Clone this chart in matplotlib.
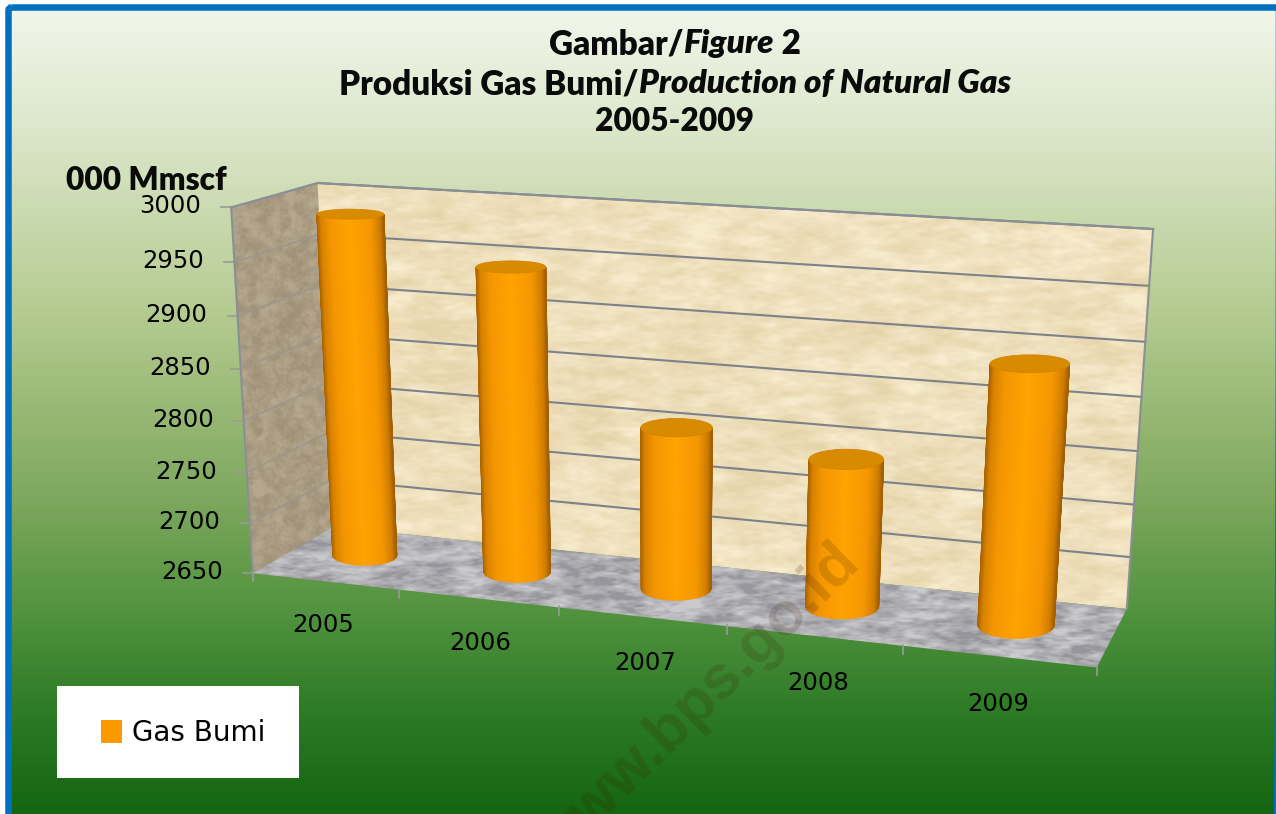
import numpy as np
import matplotlib
matplotlib.use("Agg")
import matplotlib.pyplot as plt
from matplotlib.patches import Polygon, Rectangle, FancyBboxPatch, Patch, Ellipse
from matplotlib.colors import LinearSegmentedColormap, to_rgb

# ---- data ----
years = ["2005", "2006", "2007", "2008", "2009"]
gas_bumi = [2985, 2945, 2806, 2790, 2890]
y_ticks = [2650, 2700, 2750, 2800, 2850, 2900, 2950, 3000]
series_name = "Gas Bumi"
y_title = "000 Mmscf"
VMIN, VMAX = 2650, 3000

W, H = 1276, 814
fig = plt.figure(figsize=(W / 100, H / 100), dpi=100)
ax = fig.add_axes([0, 0, 1, 1])
ax.set_xlim(0, W)
ax.set_ylim(H, 0)
ax.axis("off")
fig.patch.set_facecolor("white")

# ---- 3-D projection fitted to the box corners (x category, y value, z depth) ----
world = [(0, 0, 0), (0, 1, 0), (5, 0, 0), (5, 1, 0), (0, 0, 1), (0, 1, 1), (5, 0, 1), (5, 1, 1)]
image = [(254, 570), (229, 206), (1097, 668), (1124, 265), (332, 530), (320, 184), (1127, 608), (1152, 225)]
A = []
for (X, Y, Z), (u, v) in zip(world, image):
    A.append([X, Y, Z, 1, 0, 0, 0, 0, -u * X, -u * Y, -u * Z, -u])
    A.append([0, 0, 0, 0, X, Y, Z, 1, -v * X, -v * Y, -v * Z, -v])
P = np.linalg.svd(np.array(A, float))[2][-1].reshape(3, 4)


def proj(x, val, z):
    x, val, z = np.broadcast_arrays(np.asarray(x, float), np.asarray(val, float), np.asarray(z, float))
    yy = (val - VMIN) / (VMAX - VMIN)
    h = np.stack([x, yy, z, np.ones_like(x)])
    q = P @ h.reshape(4, -1)
    return (q[0] / q[2]).reshape(x.shape), (q[1] / q[2]).reshape(x.shape)


def corner(x, val, z):
    a, b = proj(x, val, z)
    return float(a), float(b)


# ---- background gradient ----
stops = [(0.0, "#f1f6ea"), (0.13, "#dfe9cf"), (0.37, "#b6cc92"), (0.6, "#80a95f"),
         (0.75, "#52933f"), (0.88, "#2c7a24"), (1.0, "#156612")]
grad = LinearSegmentedColormap.from_list("bg", stops)
ax.imshow(np.linspace(0, 1, 400)[:, None], cmap=grad, extent=(8, W, H, 8), aspect="auto", zorder=0)
ax.set_xlim(0, W)
ax.set_ylim(H, 0)
# blue frame
ax.add_patch(FancyBboxPatch((8.5, 7.5), W - 5.5, H + 40, boxstyle="round,pad=0,rounding_size=3",
                            fc="none", ec="#0070c0", lw=4.7, zorder=9))


# ---- deterministic texture ----
def smooth_noise(h, w, sx, sy, seed):
    yy, xx = np.mgrid[0:h, 0:w]
    n = np.sin(xx * 12.9898 + yy * 78.233 + seed) * 43758.5453
    n = n - np.floor(n)
    fy = np.fft.fftfreq(h)[:, None]
    fx = np.fft.fftfreq(w)[None, :]
    f = np.exp(-2 * (np.pi ** 2) * ((fx * sx) ** 2 + (fy * sy) ** 2))
    s = np.real(np.fft.ifft2(np.fft.fft2(n) * f))
    return (s - s.mean()) / s.std()


def textured(poly, base, dark, amount, sx, sy, seed, spots=0.0):
    xs, ys = zip(*poly)
    x0, x1, y0, y1 = int(min(xs)) - 1, int(max(xs)) + 2, int(min(ys)) - 1, int(max(ys)) + 2
    h, w = y1 - y0, x1 - x0
    n = smooth_noise(h, w, sx, sy, seed) + 0.6 * smooth_noise(h, w, sx / 3, sy / 3, seed + 3)
    n /= n.std()
    t = np.clip(0.5 + amount * n, 0, 1)
    if spots:
        t = np.clip(t + spots * np.clip(n - 1.1, 0, None), 0, 1)
    a, b = np.array(to_rgb(base)), np.array(to_rgb(dark))
    img = a[None, None, :] * (1 - t[..., None]) + b[None, None, :] * t[..., None]
    im = ax.imshow(img, extent=(x0, x1, y1, y0), aspect="auto", zorder=1, interpolation="bilinear")
    im.set_clip_path(Polygon(poly, transform=ax.transData))
    ax.set_xlim(0, W)
    ax.set_ylim(H, 0)


back = [corner(0, VMAX, 1), corner(5, VMAX, 1), corner(5, VMIN, 1), corner(0, VMIN, 1)]
left = [corner(0, VMAX, 0), corner(0, VMAX, 1), corner(0, VMIN, 1), corner(0, VMIN, 0)]
floor = [corner(0, VMIN, 0), corner(0, VMIN, 1), corner(5, VMIN, 1), corner(5, VMIN, 0)]
textured(back, "#f8ecce", "#e6d4aa", 0.2, 10, 3.5, 1.0)
textured(left, "#b6a88f", "#a09279", 0.25, 3, 3, 2.0)
textured(floor, "#cacacd", "#96969c", 0.26, 8, 2.5, 3.0, spots=0.3)

# ---- grid and box edges ----
GRID = "#7c828a"
for v in y_ticks:
    xa, ya = corner(0, v, 0)
    xb, yb = corner(0, v, 1)
    xc, yc = corner(5, v, 1)
    if v != VMIN:
        ax.plot([xa, xb], [ya, yb], color="#9c968b", lw=1.1, zorder=2)
        ax.plot([xb, xc], [yb, yc], color=GRID, lw=1.5, zorder=2)
    ax.plot([xa - 10, xa], [ya, ya], color="#9a9a9a", lw=1.2, zorder=2)
    ax.text(xa - 30, ya - 1, str(v), ha="right", va="center", fontsize=17.5, family="DejaVu Sans", color="black", zorder=6)
for a, b in [(back[0], back[1]), (back[1], back[2]), (left[0], left[1]), (left[0], left[3])]:
    ax.plot([a[0], b[0]], [a[1], b[1]], color="#8a8f96", lw=1.5, zorder=2)

for i in range(6):
    xa, ya = corner(i - (0.05 if 0 < i < 5 else 0), VMIN, 0)
    ax.plot([xa, xa], [ya - 1, ya + 8], color="#9a9a9a", lw=1.2, zorder=2)
for i, y in enumerate(years):
    xa, ya = corner(i + 0.48, VMIN, 0)
    ax.text(xa - 3 + 0.5 * i, ya + 43.5 + i, y, ha="center", va="center", fontsize=17.5, family="DejaVu Sans", color="black", zorder=6)

# ---- cylinders ----
RX = 0.215
CXO, CZ = 0.46, 0.53
shade_t = [0.0, 0.06, 0.2, 0.5, 0.8, 0.94, 1.0]
shade_c = ["#a86200", "#d88200", "#f59600", "#ffa300", "#f69700", "#cf7d00", "#a35f00"]
shade = LinearSegmentedColormap.from_list("cyl", list(zip(shade_t, shade_c)))


def ell_k(y):
    return 0.15 + (y - 218) * 0.0005


for i, val in enumerate(gas_bumi):
    z0 = 3 + i * 0.01
    cx = i + CXO
    bx, by = corner(cx, VMIN, CZ)
    tx, ty = corner(cx, val, CZ)
    brx = (corner(cx + RX, VMIN, CZ)[0] - corner(cx - RX, VMIN, CZ)[0]) / 2
    trx = (corner(cx + RX, val, CZ)[0] - corner(cx - RX, val, CZ)[0]) / 2
    bry, try_ = brx * ell_k(by), trx * ell_k(ty)
    N = 80
    us = np.sin(np.linspace(-1, 1, N + 1) * np.pi / 2)
    xb_ = bx + brx * us
    yb_ = by + bry * np.sqrt(np.clip(1 - us ** 2, 0, 1))
    xt_ = tx + trx * us
    yt_ = ty + try_ * np.sqrt(np.clip(1 - us ** 2, 0, 1))
    for k in range(N):
        col = shade((us[k] + us[k + 1]) / 4 + 0.5)
        ax.add_patch(Polygon([(xb_[k], yb_[k]), (xb_[k + 1], yb_[k + 1]), (xt_[k + 1], yt_[k + 1]), (xt_[k], yt_[k])],
                             closed=True, fc=col, ec=col, lw=0.6, zorder=z0))
    ax.add_patch(Ellipse((tx, ty), 2 * trx, 2 * try_, fc="#d98b00", ec="#cf8400", lw=0.6, zorder=z0 + 0.005))

# ---- title ----
rend = fig.canvas.get_renderer()
TITLE_FONT = "Lato"


def mixed_line(pieces, xc, yc, target):
    arts = [ax.text(0, yc, s, fontsize=20, family=TITLE_FONT, weight="heavy", style=st,
                    ha="left", va="center_baseline", color="#0a0a0a", zorder=7) for s, st in pieces]
    total = sum(a.get_window_extent(rend).width for a in arts)
    size = 20 * target / total
    for a in arts:
        a.set_fontsize(size)
    widths = [a.get_window_extent(rend).width for a in arts]
    x = xc - sum(widths) / 2
    for a, w in zip(arts, widths):
        a.set_x(x)
        x += w


mixed_line([("Gambar/", "normal"), ("Figure", "italic"), ("\u00a02", "normal")], 675, 41, 252)
mixed_line([("Produksi Gas Bumi/", "normal"), ("Production of Natural Gas", "italic")], 675, 81, 672)
mixed_line([("2005-2009", "normal")], 675, 119, 158)
mixed_line([(y_title, "normal")], 146.5, 178, 161)

# ---- legend ----
ax.add_patch(Rectangle((57, 686), 242, 92, fc="white", ec="none", zorder=7))
leg = ax.legend(handles=[Patch(fc="#ff9900", ec="none", label=series_name)], loc="center left",
                bbox_to_anchor=(101 / W, 1 - 733 / H), bbox_transform=ax.transAxes, frameon=False,
                borderaxespad=0, borderpad=0,
                prop={"family": "DejaVu Sans", "size": 20}, handlelength=0.76, handleheight=0.93, handletextpad=0.36)
leg.set_zorder(8)

# ---- watermark ----
ax.text(698, 705, "www.bps.go.id", rotation=44.5, rotation_mode="anchor", ha="center", va="center",
        fontsize=44, family="Liberation Sans", weight="bold", color="#3a1a00", alpha=0.17, zorder=6.5, clip_on=True)

fig.savefig("out.png", dpi=100)
